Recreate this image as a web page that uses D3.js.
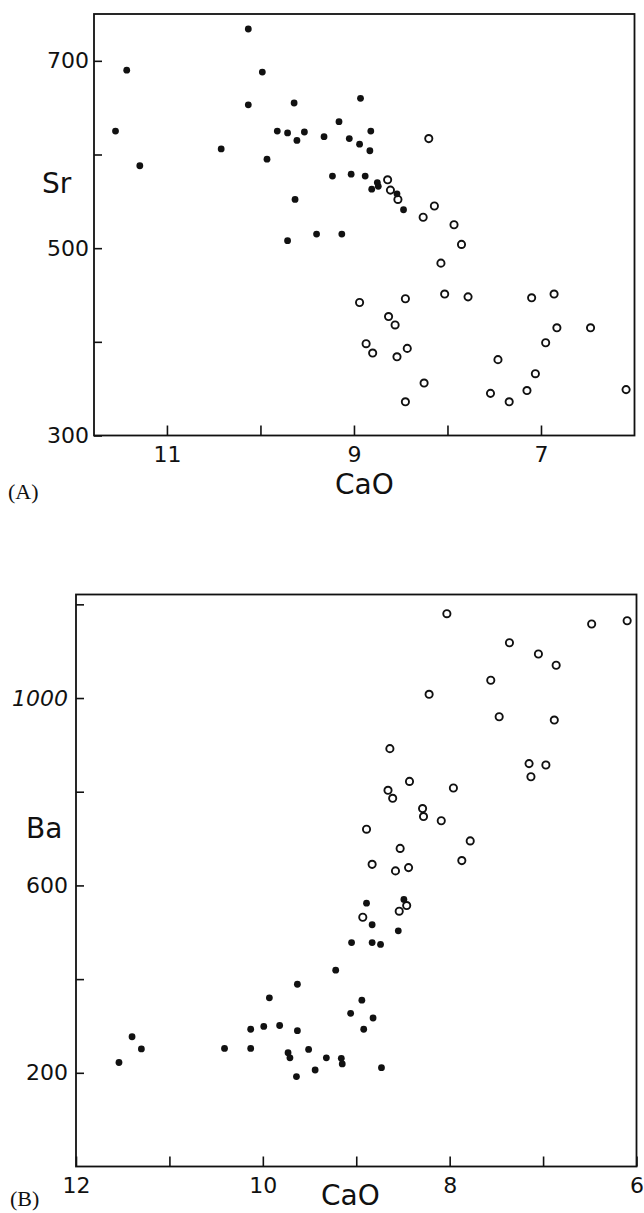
<!DOCTYPE html>
<html>
<head>
<meta charset="utf-8">
<script src="https://cdn.jsdelivr.net/npm/d3@7"></script>
<style>
  body { margin: 0; background: #fff; }
  svg { display: block; }
  .tick text { font-family: "DejaVu Sans", sans-serif; font-size: 22px; fill: #111; }
  .tick line { stroke: #111; stroke-width: 1.6; }
</style>
</head>
<body>
<svg id="chart" width="644" height="1213"></svg>
<script>
// Panel A : Sr vs CaO
const caoAFilled = [11.55, 11.43, 11.29, 10.42, 10.13, 10.13, 9.98, 9.93, 9.82, 9.71, 9.64, 9.61, 9.53, 9.63, 9.71, 9.40,
                    9.32, 9.23, 9.16, 9.13, 9.05, 9.03, 8.93, 8.94, 8.88, 8.83, 8.82, 8.81, 8.75, 8.74, 8.54, 8.47]
const srAFilled  = [625, 690, 588, 606, 734, 653, 688, 595, 625, 623, 655, 615, 624, 552, 508, 515,
                    619, 577, 635, 515, 617, 579, 660, 611, 577, 604, 625, 563, 570, 566, 558, 541]
const caoAOpen   = [8.20, 8.64, 8.61, 8.53, 8.14, 8.26, 7.93, 7.85, 8.07, 8.03, 7.78, 8.94, 8.45, 8.63, 8.56, 8.87,
                    8.80, 8.43, 8.54, 8.25, 8.45, 7.46, 7.54, 7.34, 7.15, 7.06, 6.95, 6.83, 7.10, 6.86, 6.47, 6.09]
const srAOpen    = [617, 573, 562, 552, 545, 533, 525, 504, 484, 451, 448, 442, 446, 427, 418, 398,
                    388, 393, 384, 356, 336, 381, 345, 336, 348, 366, 399, 415, 447, 451, 415, 349]

// Panel B : Ba vs CaO
const caoBFilled = [11.54, 11.40, 11.30, 10.41, 10.13, 10.13, 9.99, 9.93, 9.82, 9.73, 9.71, 9.63, 9.63, 9.64, 9.51, 9.44,
                    9.32, 9.22, 9.16, 9.15, 9.06, 8.94, 8.92, 8.82, 8.73, 9.05, 8.83, 8.74, 8.83, 8.89, 8.55, 8.49]
const baBFilled  = [222, 277, 251, 252, 293, 252, 299, 360, 301, 243, 232, 290, 389, 192, 250, 206,
                    232, 419, 231, 219, 327, 355, 293, 317, 211, 478, 478, 474, 516, 562, 503, 570]
const caoBOpen   = [8.03, 7.36, 6.48, 6.10, 7.05, 6.86, 7.56, 8.22, 7.47, 6.88, 8.64, 7.15, 6.97, 7.13, 8.43, 7.96,
                    8.66, 8.61, 8.29, 8.28, 8.09, 8.89, 7.78, 8.53, 7.87, 8.83, 8.58, 8.44, 8.46, 8.54, 8.93]
const baBOpen    = [1180, 1118, 1158, 1165, 1094, 1070, 1038, 1008, 960, 953, 892, 860, 857, 832, 822, 808,
                    803, 786, 764, 747, 738, 720, 695, 679, 653, 645, 631, 638, 557, 545, 532]

// Ticks
const xTicksA = [11, 10, 9, 8, 7]
const xLabelsA = [11, 9, 7]
const yTicksA = [300, 400, 500, 600, 700]
const yLabelsA = [300, 500, 700]
const xTicksB = [12, 11, 10, 9, 8, 7, 6]
const xLabelsB = [12, 10, 8, 6]
const yTicksB = [200, 400, 600, 800, 1000, 1200]
const yLabelsB = [200, 600, 1000]

const svg = d3.select("#chart")

const panelA = {
    x: d3.scaleLinear().domain([11.78, 6]).range([94, 634.5]),
    y: d3.scaleLinear().domain([300, 750]).range([435.5, 14])
}
const panelB = {
    x: d3.scaleLinear().domain([12, 6]).range([76, 636.5]),
    y: d3.scaleLinear().domain([0, 1221]).range([1166.5, 594.5])
}

function drawFrame(p){
    const [x0, x1] = p.x.range()
    const [y0, y1] = p.y.range()
    svg.append("rect")
        .attr("x", x0).attr("y", y1)
        .attr("width", x1 - x0).attr("height", y0 - y1)
        .attr("fill", "none")
        .attr("stroke", "#111")
        .attr("stroke-width", 1.8)
}

function drawAxes(p, xt, xl, yt, yl, yPad, yItalic){
    const xAxis = d3.axisBottom(p.x)
        .tickValues(xt)
        .tickSizeInner(-10).tickSizeOuter(0)
        .tickPadding(11)
        .tickFormat(d => xl.includes(d) ? d : "")
    svg.append("g")
        .attr("transform", "translate(0," + p.y.range()[0] + ")")
        .call(xAxis)
        .call(g => g.select(".domain").remove())

    const yAxis = d3.axisLeft(p.y)
        .tickValues(yt)
        .tickSizeInner(-8).tickSizeOuter(0)
        .tickPadding(yPad)
        .tickFormat(d => yl.includes(d) ? d : "")
    const gy = svg.append("g")
        .attr("transform", "translate(" + p.x.range()[0] + ",0)")
        .call(yAxis)
        .call(g => g.select(".domain").remove())
    if(yItalic){
        gy.selectAll(".tick text")
            .filter(d => d === yItalic)
            .style("font-style", "italic")
    }
}

function drawPoints(p, xs, ys, filled){
    const data = xs.map((v, i) => [v, ys[i]])
    svg.append("g")
        .selectAll("circle")
        .data(data)
        .join("circle")
        .attr("cx", d => p.x(d[0]))
        .attr("cy", d => p.y(d[1]))
        .attr("r", filled ? 3.4 : 3.6)
        .attr("fill", filled ? "#111" : "#fff")
        .attr("stroke", filled ? "none" : "#111")
        .attr("stroke-width", 1.9)
}

function label(text, x, y, size, family){
    svg.append("text")
        .attr("x", x).attr("y", y)
        .attr("font-family", family || "'DejaVu Sans', sans-serif")
        .attr("font-size", size)
        .attr("fill", "#111")
        .text(text)
}

// Panel A
drawAxes(panelA, xTicksA, xLabelsA, yTicksA, yLabelsA, 5)
drawPoints(panelA, caoAOpen, srAOpen, false)
drawPoints(panelA, caoAFilled, srAFilled, true)
drawFrame(panelA)
label("Sr", 42, 193, 28)
label("CaO", 335, 494, 28)
label("(A)", 8, 499, 22, "'Liberation Serif', serif")

// Panel B
drawAxes(panelB, xTicksB, xLabelsB, yTicksB, yLabelsB, 8, 1000)
drawPoints(panelB, caoBOpen, baBOpen, false)
drawPoints(panelB, caoBFilled, baBFilled, true)
drawFrame(panelB)
label("Ba", 26, 838, 28)
label("CaO", 321, 1205, 28)
label("(B)", 10, 1206, 22, "'Liberation Serif', serif")
</script>
</body>
</html>
